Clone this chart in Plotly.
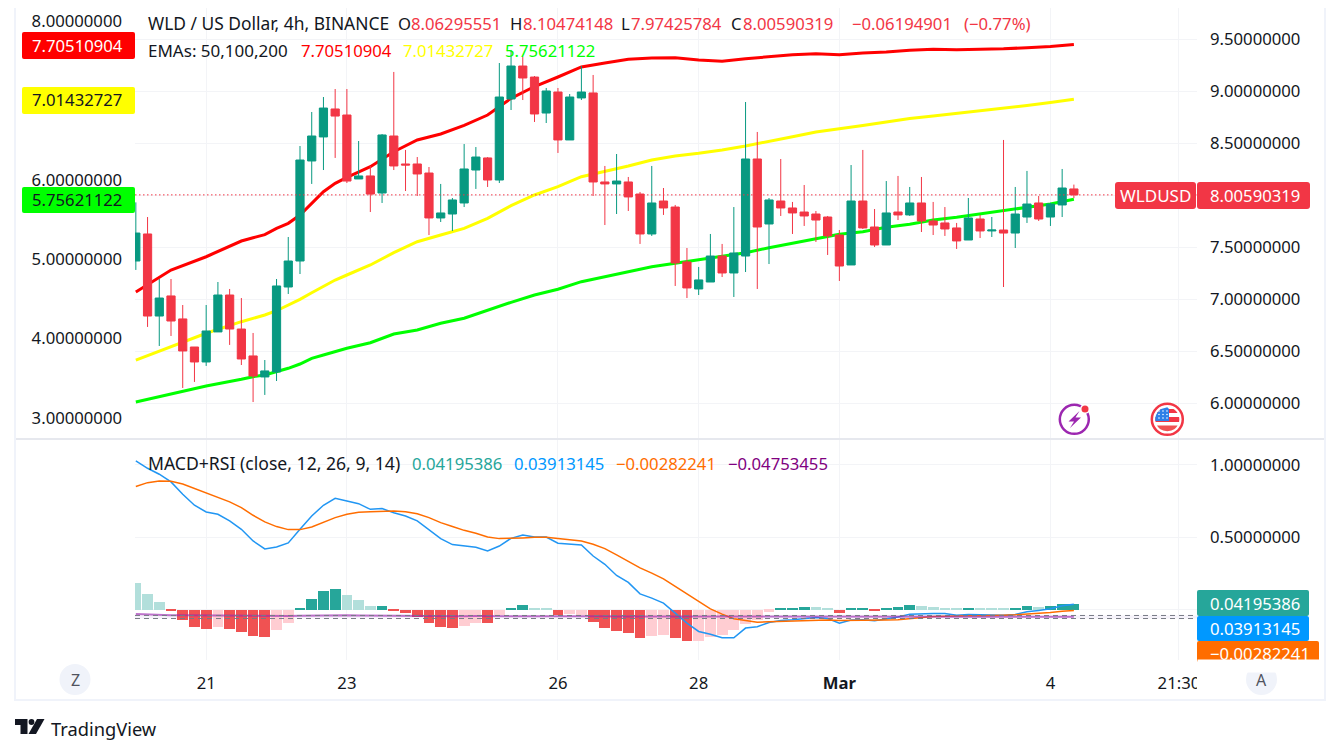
"""WLD / USD 4h chart with EMAs and a MACD+RSI pane, TradingView look."""
import math

import pandas as pd
import plotly.graph_objects as go

W, H = 1341, 754
PAGE_MARGIN = 8  # the page keeps its default body margin
PAPER_W = 1330   # drawn width measured in the photographed page
FONT = "Noto Sans"
TEXT = "#131722"
GRID = "#F3F4F7"
BORDER = "#F0F3FA"
CANDLE_UP = "#089981"
CANDLE_DOWN = "#F23645"

start = "2024-02-20"
opens = [7.370, 7.630, 6.841, 7.034, 6.813, 6.543, 6.399, 6.688, 7.043, 6.716, 6.457, 6.255, 6.303, 7.120, 7.370, 8.332,
         8.563, 8.832, 8.774, 8.159, 8.188, 8.024, 8.572, 8.303, 8.303, 8.216, 7.784, 7.822, 7.928, 8.245, 8.361, 8.149,
         8.928, 9.245, 9.139, 8.793, 8.995, 8.534, 8.938, 8.986, 8.130, 8.111, 8.130, 8.014, 7.630, 7.947, 7.889, 7.361,
         7.101, 7.168, 7.418, 7.255, 7.418, 8.351, 7.726, 7.947, 7.880, 7.841, 7.822, 7.793, 7.620, 7.332, 7.947, 7.697,
         7.524, 7.841, 7.813, 7.928, 7.755, 7.736, 7.688, 7.572, 7.774, 7.659, 7.668, 7.639, 7.793, 7.928, 7.793, 7.909,
         8.06295551]
highs = [7.934, 7.793, 7.197, 7.197, 6.947, 6.543, 6.947, 7.168, 7.101, 7.014, 6.678, 6.418, 7.197, 7.601, 8.476, 8.803,
         8.947, 9.024, 9.024, 8.524, 8.284, 8.591, 9.188, 8.438, 8.370, 8.274, 8.111, 7.976, 8.495, 8.466, 8.370, 9.274,
         9.400, 9.335, 9.149, 9.034, 9.034, 8.976, 9.245, 9.159, 8.284, 8.399, 8.178, 8.034, 8.284, 8.072, 7.909, 7.495,
         7.313, 7.630, 7.534, 7.889, 8.899, 8.611, 7.976, 8.351, 7.938, 8.101, 7.851, 7.803, 7.668, 8.293, 8.438, 7.870,
         8.139, 8.188, 8.082, 8.178, 7.938, 7.889, 7.736, 7.976, 7.813, 7.793, 8.534, 8.082, 8.236, 7.995, 7.930, 8.255,
         8.10474148]
lows = [7.284, 6.736, 6.553, 6.649, 6.149, 6.207, 6.361, 6.688, 6.563, 6.370, 6.014, 6.082, 6.216, 7.053, 7.245, 8.111,
        8.245, 8.361, 8.120, 8.159, 7.841, 7.928, 8.245, 8.043, 7.995, 7.620, 7.745, 7.659, 7.889, 8.063, 8.082, 8.120,
        8.822, 8.918, 8.707, 8.697, 8.409, 8.534, 8.918, 7.995, 7.716, 7.822, 7.851, 7.534, 7.611, 7.813, 7.130, 7.014,
        7.043, 7.168, 7.216, 7.024, 7.264, 7.101, 7.341, 7.803, 7.630, 7.707, 7.553, 7.428, 7.178, 7.332, 7.678, 7.505,
        7.524, 7.764, 7.803, 7.649, 7.620, 7.611, 7.486, 7.572, 7.591, 7.601, 7.120, 7.495, 7.736, 7.755, 7.707, 7.793,
        7.97425784]
closes = [7.639, 6.841, 7.014, 6.793, 6.505, 6.399, 6.697, 7.043, 6.716, 6.428, 6.264, 6.313, 7.130, 7.370, 8.341, 8.572,
          8.841, 8.764, 8.139, 8.188, 8.014, 8.582, 8.284, 8.293, 8.207, 7.784, 7.832, 7.957, 8.255, 8.370, 8.149, 8.947,
          9.245, 9.130, 8.784, 9.005, 8.534, 8.947, 8.995, 8.130, 8.111, 8.139, 7.986, 7.630, 7.928, 7.880, 7.351, 7.111,
          7.188, 7.418, 7.255, 7.447, 8.351, 7.697, 7.957, 7.880, 7.832, 7.803, 7.764, 7.611, 7.322, 7.947, 7.688, 7.524,
          7.832, 7.813, 7.928, 7.755, 7.716, 7.678, 7.563, 7.784, 7.659, 7.668, 7.639, 7.822, 7.918, 7.774, 7.918, 8.072,
          8.00590319]

ema_idx = [0, 3, 6, 9, 10, 11, 12, 13, 14, 15, 16, 17, 18, 20, 22, 24, 26, 28, 30, 32, 34, 36, 38, 40, 42, 44, 46, 48,
           50, 52, 54, 56, 58, 60, 62, 64, 66, 68, 70, 72, 74, 76, 78, 80]
ema50 = [4.587, 4.864, 5.031, 5.229, 5.271, 5.309, 5.389, 5.452, 5.557, 5.704, 5.850, 5.956, 6.031, 6.165, 6.354, 6.501,
         6.577, 6.686, 6.816, 7.026, 7.175, 7.295, 7.421, 7.471, 7.518, 7.534, 7.537, 7.509, 7.494, 7.525, 7.549, 7.576,
         7.588, 7.576, 7.598, 7.610, 7.632, 7.644, 7.639, 7.644, 7.650, 7.664, 7.678, 7.70510904]
ema100 = [3.730, 3.898, 4.067, 4.213, 4.256, 4.297, 4.351, 4.423, 4.495, 4.578, 4.662, 4.738, 4.801, 4.927, 5.082, 5.220,
          5.305, 5.389, 5.515, 5.674, 5.809, 5.913, 6.039, 6.102, 6.174, 6.249, 6.300, 6.334, 6.375, 6.426, 6.489, 6.543,
          6.602, 6.640, 6.685, 6.728, 6.772, 6.804, 6.835, 6.873, 6.900, 6.936, 6.974, 7.01432727]
ema200 = [3.202, 3.298, 3.403, 3.487, 3.520, 3.542, 3.583, 3.626, 3.680, 3.752, 3.793, 3.835, 3.878, 3.948, 4.058, 4.108,
          4.193, 4.256, 4.360, 4.457, 4.549, 4.621, 4.717, 4.780, 4.843, 4.906, 4.948, 4.990, 5.031, 5.082, 5.145, 5.200,
          5.251, 5.314, 5.346, 5.402, 5.440, 5.494, 5.528, 5.569, 5.611, 5.654, 5.695, 5.75621122]

macd = [1.028, 0.977, 0.936, 0.883, 0.798, 0.722, 0.676, 0.660, 0.614, 0.556, 0.476, 0.421, 0.434, 0.462, 0.556, 0.648,
        0.722, 0.770, 0.752, 0.733, 0.694, 0.699, 0.671, 0.648, 0.614, 0.552, 0.492, 0.451, 0.439, 0.432, 0.407, 0.441,
        0.494, 0.517, 0.503, 0.503, 0.460, 0.455, 0.448, 0.372, 0.315, 0.238, 0.190, 0.111, 0.082, 0.047, -0.022, -0.091,
        -0.148, -0.167, -0.192, -0.192, -0.125, -0.116, -0.086, -0.072, -0.068, -0.059, -0.052, -0.059, -0.091, -0.070,
        -0.068, -0.075, -0.063, -0.049, -0.029, -0.024, -0.024, -0.024, -0.036, -0.031, -0.033, -0.033, -0.036, -0.031,
        -0.013, -0.003, 0.008, 0.029, 0.03913145]
signal = [0.851, 0.878, 0.890, 0.887, 0.869, 0.837, 0.805, 0.775, 0.745, 0.706, 0.653, 0.607, 0.575, 0.554, 0.554, 0.572,
          0.602, 0.637, 0.660, 0.674, 0.678, 0.680, 0.683, 0.678, 0.664, 0.637, 0.602, 0.575, 0.549, 0.529, 0.503, 0.492,
          0.492, 0.497, 0.501, 0.501, 0.492, 0.485, 0.476, 0.453, 0.423, 0.380, 0.335, 0.290, 0.254, 0.215, 0.162, 0.111,
          0.059, 0.008, -0.029, -0.061, -0.072, -0.084, -0.082, -0.079, -0.077, -0.072, -0.070, -0.070, -0.072, -0.072,
          -0.072, -0.075, -0.070, -0.068, -0.059, -0.052, -0.045, -0.043, -0.040, -0.040, -0.040, -0.040, -0.036, -0.033,
          -0.029, -0.024, -0.017, -0.008, -0.00282241]
hist = [0.184, 0.108, 0.053, -0.009, -0.071, -0.120, -0.133, -0.120, -0.133, -0.154, -0.182, -0.189, -0.140, -0.092, 0.011,
        0.074, 0.129, 0.143, 0.101, 0.067, 0.025, 0.025, -0.004, -0.023, -0.051, -0.092, -0.120, -0.126, -0.113, -0.092,
        -0.092, -0.037, 0.011, 0.032, 0.011, 0.011, -0.032, -0.025, -0.032, -0.085, -0.123, -0.144, -0.157, -0.192, -0.178,
        -0.171, -0.192, -0.213, -0.213, -0.185, -0.171, -0.137, -0.095, -0.068, -0.013, 0.015, 0.015, 0.022, 0.022, 0.008,
        -0.020, 0.008, 0.008, -0.003, 0.015, 0.022, 0.036, 0.029, 0.022, 0.015, 0.008, 0.015, 0.008, 0.008, 0.008, 0.015,
        0.029, 0.022, 0.029, 0.043, 0.04195386]
hist_strong = [0, 0, 0, 1, 1, 1, 1, 0, 1, 1, 1, 1, 0, 0, 1, 1, 1, 1, 0, 0, 0, 1, 1, 1, 1, 1, 1, 1, 0, 0, 1, 0, 1, 1, 0, 0, 1,
               0, 0, 1, 1, 1, 1, 1, 0, 0, 1, 1, 0, 0, 0, 0, 0, 0, 0, 1, 1, 1, 0, 0, 1, 1, 1, 1, 1, 1, 1, 0, 0, 0, 0, 1, 0, 0,
               0, 1, 1, 0, 1, 1, 1]
rsi = [-0.028, -0.032, -0.035, -0.036, -0.037, -0.038, -0.039, -0.040, -0.041, -0.042, -0.043, -0.043, -0.043, -0.042,
       -0.040, -0.038, -0.037, -0.036, -0.037, -0.038, -0.039, -0.039, -0.039, -0.040, -0.041, -0.042, -0.043, -0.043,
       -0.043, -0.042, -0.042, -0.040, -0.039, -0.039, -0.039, -0.039, -0.041, -0.041, -0.042, -0.043, -0.044, -0.045,
       -0.045, -0.046, -0.046, -0.046, -0.046, -0.047, -0.047, -0.046, -0.046, -0.046, -0.045, -0.045, -0.044, -0.044,
       -0.044, -0.044, -0.044, -0.045, -0.046, -0.045, -0.045, -0.045, -0.045, -0.045, -0.044, -0.045, -0.045, -0.045,
       -0.046, -0.045, -0.046, -0.046, -0.046, -0.045, -0.045, -0.046, -0.045, -0.045, -0.04753455]
rsi_band = [-0.059, -0.038]

price_ticks = [6.0, 6.5, 7.0, 7.5, 8.0, 8.5, 9.0, 9.5]
ema_ticks = [3.0, 4.0, 5.0, 6.0, 7.0, 8.0]
macd_ticks = [0.0, 0.5, 1.0]
day_ticks = ["2024-02-21", "2024-02-23", "2024-02-26", "2024-02-28", "2024-03-01", "2024-03-04", "2024-03-05 19:50"]
day_labels = ["21", "23", "26", "28", "<b>Mar</b>", "4", "21:30"]

dates = pd.date_range(start, periods=len(closes), freq="4h")
ema_dates = dates[ema_idx]


def px(x):
    return (x - PAGE_MARGIN) / PAPER_W


def py(y):
    return 1 - (y - PAGE_MARGIN) / (H - PAGE_MARGIN)


def pad8(value):
    return f"{value:.8f}"


def tick_text(values, hidden):
    # the hidden label sits behind a value tag in the original, only its grid line shows
    return ["" if v == hidden else pad8(v) for v in values]


fig = go.Figure()
fig.add_trace(go.Scatter(x=ema_dates, y=ema50, yaxis="y2", mode="lines", line=dict(color="#FF0000", width=3)))
fig.add_trace(go.Scatter(x=ema_dates, y=ema100, yaxis="y2", mode="lines", line=dict(color="#FFFF00", width=3)))
fig.add_trace(go.Scatter(x=ema_dates, y=ema200, yaxis="y2", mode="lines", line=dict(color="#00FF00", width=3)))
fig.add_trace(go.Candlestick(x=dates, open=opens, high=highs, low=lows, close=closes, yaxis="y", whiskerwidth=0,
                             increasing=dict(line=dict(color=CANDLE_UP, width=1), fillcolor=CANDLE_UP),
                             decreasing=dict(line=dict(color=CANDLE_DOWN, width=1), fillcolor=CANDLE_DOWN)))

bar_colors = []
for value, strong in zip(hist, hist_strong):
    if value >= 0:
        bar_colors.append("#26A69A" if strong else "#B2DFDB")
    else:
        bar_colors.append("#F05252" if strong else "#FFCDD2")
fig.add_trace(go.Bar(x=dates, y=hist, yaxis="y3", marker=dict(color=bar_colors, line_width=0),
                     width=0.92 * 4 * 3600 * 1000))
fig.add_trace(go.Scatter(x=dates, y=macd, yaxis="y3", mode="lines", line=dict(color="#2196F3", width=1.5)))
fig.add_trace(go.Scatter(x=dates, y=signal, yaxis="y3", mode="lines", line=dict(color="#FF6D00", width=1.5)))
fig.add_trace(go.Scatter(x=dates, y=rsi, yaxis="y3", mode="lines", opacity=0.65, line=dict(color="#9C27B0", width=2)))

shapes = []
annotations = []


def rect(x0, y0, x1, y1, color, radius=0):
    r = radius
    if not r:
        shapes.append(dict(type="rect", xref="paper", yref="paper", x0=px(x0), x1=px(x1), y0=py(y0), y1=py(y1),
                           fillcolor=color, line_width=0, layer="above"))
        return
    # rounded corners need a path, in paper pixels via the helpers
    path = (f"M {px(x0 + r)} {py(y0)} L {px(x1 - r)} {py(y0)} Q {px(x1)} {py(y0)} {px(x1)} {py(y0 + r)} "
            f"L {px(x1)} {py(y1 - r)} Q {px(x1)} {py(y1)} {px(x1 - r)} {py(y1)} L {px(x0 + r)} {py(y1)} "
            f"Q {px(x0)} {py(y1)} {px(x0)} {py(y1 - r)} L {px(x0)} {py(y0 + r)} Q {px(x0)} {py(y0)} {px(x0 + r)} {py(y0)} Z")
    shapes.append(dict(type="path", xref="paper", yref="paper", path=path, fillcolor=color, line_width=0, layer="above"))


def circle(cx, cy, r, fill, line=None, line_width=0):
    shapes.append(dict(type="circle", xref="paper", yref="paper", x0=px(cx - r), x1=px(cx + r), y0=py(cy + r), y1=py(cy - r),
                       fillcolor=fill, line=dict(color=line or fill, width=line_width), layer="above"))


def polygon(points, color):
    path = "M " + " L ".join(f"{px(a)} {py(b)}" for a, b in points) + " Z"
    shapes.append(dict(type="path", xref="paper", yref="paper", path=path, fillcolor=color, line_width=0, layer="above"))


def label(x, y, text, color=TEXT, size=16.7, anchor="left"):
    annotations.append(dict(xref="paper", yref="paper", x=px(x), y=py(y), text=text, showarrow=False, xanchor=anchor,
                            yanchor="middle", align=anchor, borderpad=0, font=dict(family=FONT, size=size, color=color)))


# chart frame and pane separator
rect(14, 8, 16, 701, BORDER)
rect(1324, 8, 1326, 701, BORDER)
rect(14, 699, 1326, 701, BORDER)
rect(16, 438, 1324, 440, "#E6E8EE")

# RSI band and last price line follow the axes
shapes.append(dict(type="rect", xref="paper", yref="y3", x0=px(135), x1=px(1197), y0=rsi_band[0], y1=rsi_band[1],
                   fillcolor="rgba(126,87,194,0.08)", line_width=0, layer="below"))
for level in rsi_band:
    shapes.append(dict(type="line", xref="paper", yref="y3", x0=px(135), x1=px(1197), y0=level, y1=level,
                       line=dict(color="#787B86", width=1, dash="5px,4px"), layer="above"))
shapes.append(dict(type="line", xref="paper", yref="y", x0=px(135), x1=px(1197), y0=closes[-1], y1=closes[-1],
                   line=dict(color=CANDLE_DOWN, width=1, dash="1.5px,2.5px"), layer="above"))

# left EMA tags
rect(22, 32, 135, 59, "#FF0000", 2)
label(31, 45, pad8(ema50[-1]), "#FFFFFF")
rect(22, 87, 135, 114, "#FFFF00", 2)
label(31, 100, pad8(ema100[-1]), TEXT)
rect(22, 187, 135, 213, "#00FF00", 2)
label(31, 200, pad8(ema200[-1]), TEXT)

# right price tags
rect(1115, 182, 1196, 209, CANDLE_DOWN, 3)
label(1155.5, 195.5, "WLDUSD", "#FFFFFF", 17, "center")
rect(1197, 182, 1310, 209, CANDLE_DOWN, 3)
label(1209, 195.5, pad8(closes[-1]), "#FFFFFF")
rect(1197, 641, 1319, 662, "#FF6D00", 2)
label(1209, 653, "−0.00282241", "#FFFFFF")
annotations.append(dict(xref="paper", yref="paper", x=px(1197), y=py(659), xanchor="left", yanchor="top", text=" ",
                        showarrow=False, width=125, height=12, bgcolor="#FFFFFF", borderpad=0, font=dict(size=8)))
rect(1197, 616, 1309, 641, "#0098FF", 2)
label(1209, 628.5, "0.03913145", "#FFFFFF")
rect(1197, 590, 1309, 616, "#26A69A", 2)
label(1209, 603, "0.04195386", "#FFFFFF")

# legends
label(147, 23, "WLD / US Dollar, 4h, BINANCE", TEXT, 17.4)
label(397, 23, "O")
label(410, 23, "8.06295551", CANDLE_DOWN)
label(509, 23, "H")
label(522, 23, "8.10474148", CANDLE_DOWN)
label(620, 23, "L")
label(630, 23, "7.97425784", CANDLE_DOWN)
label(730, 23, "C")
label(742, 23, "8.00590319", CANDLE_DOWN)
label(851, 23, "−0.06194901", CANDLE_DOWN)
label(963, 23, "(−0.77%)", CANDLE_DOWN)
label(147, 50, "EMAs: 50,100,200", TEXT, 17)
label(300, 50, pad8(ema50[-1]), "#FF0000")
label(402, 50, pad8(ema100[-1]), "#FFFF00")
label(504, 50, pad8(ema200[-1]), "#00FF00")
label(147, 463, "MACD+RSI (close, 12, 26, 9, 14)", TEXT, 17.6)
label(411, 463, "0.04195386", "#26A69A")
label(513, 463, "0.03913145", "#0098FF")
label(615, 463, "−0.00282241", "#FF6D00")
label(727, 463, "−0.04753455", "#800080")

# clips the last time label where the price scale starts
rect(1197, 664, 1245, 698, "#FFFFFF")

# Z and A buttons
circle(75, 679.5, 15.5, BORDER)
label(75, 680, "Z", "#50535E", 16, "center")
circle(1261.5, 679.5, 15.5, BORDER)
label(1261.5, 680, "A", "#50535E", 16, "center")

# lightning badge
circle(1074.3, 419.3, 14.5, "#FFFFFF", "#9C27B0", 2.5)
polygon([(1079.5, 411), (1068.5, 421.5), (1074, 421.5), (1070, 428), (1081, 417.5), (1075.5, 417.5)], "#9C27B0")
circle(1085, 409, 5, "#FFFFFF")
circle(1085, 409, 3.5, CANDLE_DOWN)

# US flag badge
FLAG_X, FLAG_Y, FLAG_R = 1167.3, 419.3, 12


def band(y0, y1, x_max, color):
    left, right = [], []
    for k in range(9):
        y = y0 + (y1 - y0) * k / 8
        half = math.sqrt(max(FLAG_R ** 2 - (y - FLAG_Y) ** 2, 0))
        left.append((FLAG_X - half, y))
        right.append((min(FLAG_X + half, x_max), y))
    polygon(left + right[::-1], color)


circle(FLAG_X, FLAG_Y, 15.5, "#FFFFFF", CANDLE_DOWN, 2.5)
band(409, 413, 1180, CANDLE_DOWN)
band(417, 422, 1180, CANDLE_DOWN)
band(425.5, 431.3, 1180, "#F05252")
band(407.3, 421, 1169, "#2E80E8")
for row in (411, 414.5, 418):
    for col in (1159, 1163, 1167):
        circle(col, row, 0.8, "#FFFFFF")

# TradingView logo and wordmark
polygon([(15, 719), (27.5, 719), (27.5, 734), (20.5, 734), (20.5, 725), (15, 725)], TEXT)
circle(31.5, 722, 2.9, TEXT)
polygon([(37, 719), (44.5, 719), (36, 734), (28.5, 734)], TEXT)
label(50, 728, "TradingView", TEXT, 18.3)

axis_font = dict(family=FONT, size=16.7, color=TEXT)
fig.update_layout(
    width=W - PAGE_MARGIN, height=H - PAGE_MARGIN, margin=dict(l=0, r=0, t=0, b=0),
    paper_bgcolor="#FFFFFF", plot_bgcolor="#FFFFFF",
    showlegend=False, bargap=0, boxgap=0.3, boxgroupgap=0, shapes=shapes, annotations=annotations,
    xaxis=dict(type="date", domain=[px(135), px(1197)], anchor="y3", range=["2024-02-19 23:43", "2024-03-06 02:00"],
               tickmode="array", tickvals=day_ticks, ticktext=day_labels, tickfont=axis_font, ticklabelstandoff=11,
               tickangle=0, ticks="", showgrid=True, gridcolor=GRID, gridwidth=1, zeroline=False, showline=False,
               rangeslider=dict(visible=False)),
    yaxis=dict(domain=[py(438), py(8)], range=[5.668, 9.803], overlaying="y2", side="right", anchor="x",
               tickmode="array", tickvals=price_ticks, ticktext=tick_text(price_ticks, 8.0), tickfont=axis_font,
               ticklabelstandoff=12, showgrid=True, gridcolor=GRID, zeroline=False, showline=False),
    yaxis2=dict(domain=[py(438), py(8)], range=[2.748, 8.164], side="left", anchor="x",
                tickmode="array", tickvals=ema_ticks, ticktext=tick_text(ema_ticks, 7.0),
                tickfont=axis_font, ticklabelstandoff=12, showgrid=False, zeroline=False, showline=False),
    yaxis3=dict(domain=[py(660), py(440)], range=[-0.345, 1.172], side="right", anchor="x",
                tickmode="array", tickvals=macd_ticks, ticktext=tick_text(macd_ticks, 0.0), tickfont=axis_font,
                ticklabelstandoff=12, showgrid=True, gridcolor=GRID, zeroline=False, showline=False),
)

fig.write_html("out.html")
